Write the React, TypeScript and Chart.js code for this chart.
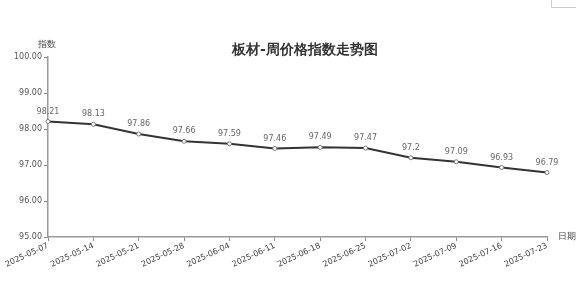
import React, { useEffect, useRef } from "react";
import { Chart, registerables } from "chart.js";

Chart.register(...registerables);

const TITLE = "板材-周价格指数走势图";
const Y_NAME = "指数";
const X_NAME = "日期";

const dates = [
  "2025-05-07", "2025-05-14", "2025-05-21", "2025-05-28",
  "2025-06-04", "2025-06-11", "2025-06-18", "2025-06-25",
  "2025-07-02", "2025-07-09", "2025-07-16", "2025-07-23",
];

const priceIndex = [98.21, 98.13, 97.86, 97.66, 97.59, 97.46, 97.49, 97.47, 97.2, 97.09, 96.93, 96.79];

const yMin = 95;
const yMax = 100;
const yStep = 1;

const FONT = "'DejaVu Sans', Verdana, sans-serif";

const decorPlugin = {
  id: "decor",
  afterDatasetsDraw(chart: any) {
    const ctx = chart.ctx;
    const meta = chart.getDatasetMeta(0);
    ctx.save();
    ctx.font = `8px ${FONT}`;
    ctx.fillStyle = "#666";
    ctx.textAlign = "center";
    ctx.textBaseline = "bottom";
    meta.data.forEach((pt: any, i: number) => {
      ctx.fillText(String(priceIndex[i]), pt.x, pt.y - 6);
    });
    ctx.restore();
  },
  afterDraw(chart: any) {
    const ctx = chart.ctx;
    const area = chart.chartArea;
    ctx.save();
    // title
    ctx.font = `bold 14px ${FONT}`;
    ctx.fillStyle = "#333";
    ctx.textAlign = "center";
    ctx.textBaseline = "middle";
    ctx.fillText(TITLE, 305, 50);
    // axis names
    ctx.font = `9px ${FONT}`;
    ctx.fillStyle = "#444";
    ctx.textAlign = "center";
    ctx.fillText(Y_NAME, area.left - 1, 45);
    ctx.textAlign = "left";
    ctx.fillText(X_NAME, area.right + 11, area.bottom);
    // small frame in the top-right corner
    ctx.strokeStyle = "#ccc";
    ctx.lineWidth = 1;
    ctx.beginPath();
    ctx.moveTo(551.5, 0);
    ctx.lineTo(551.5, 7.5);
    ctx.lineTo(576, 7.5);
    ctx.stroke();
    ctx.restore();
  },
};

export default function App() {
  const canvasRef = useRef<HTMLCanvasElement | null>(null);

  useEffect(() => {
    const canvas = canvasRef.current;
    if (!canvas) return;
    Chart.defaults.font.family = FONT;
    const chart = new Chart(canvas, {
      type: "line",
      data: {
        labels: dates,
        datasets: [
          {
            data: priceIndex,
            borderColor: "#333",
            borderWidth: 2,
            pointRadius: 2,
            pointBackgroundColor: "#fff",
            pointBorderColor: "#777",
            pointBorderWidth: 1,
            tension: 0,
          },
        ],
      },
      options: {
        responsive: false,
        animation: false,
        layout: { padding: { top: 57, right: 33, left: 0, bottom: 0 } },
        plugins: {
          legend: { display: false },
          tooltip: { enabled: false },
          title: { display: false },
        },
        scales: {
          x: {
            offset: false,
            grid: { drawOnChartArea: false, drawTicks: true, tickLength: 4, color: "#888" },
            border: { color: "#999", width: 1.5 },
            ticks: {
              color: "#444",
              font: { size: 8, family: FONT },
              maxRotation: 25,
              minRotation: 25,
              autoSkip: false,
              padding: 0,
            },
            afterFit(scale: any) {
              scale.height = 47;
              scale.paddingLeft = 0;
              scale.paddingRight = 0;
            },
          },
          y: {
            min: yMin,
            max: yMax,
            grid: { drawOnChartArea: false, drawTicks: true, tickLength: 4, color: "#888" },
            border: { color: "#999", width: 1.5 },
            ticks: {
              stepSize: yStep,
              color: "#555",
              font: { size: 8, family: FONT },
              padding: 2,
              callback: (v: any) => Number(v).toFixed(2),
            },
            afterFit(scale: any) {
              scale.width = 48;
            },
          },
        },
      },
      plugins: [decorPlugin],
    });
    return () => chart.destroy();
  }, []);

  return (
    <div style={{ position: "fixed", left: 0, top: 0, width: 580, height: 284, background: "#fff" }}>
      <canvas ref={canvasRef} width={580} height={284} style={{ width: 580, height: 284 }} />
    </div>
  );
}
